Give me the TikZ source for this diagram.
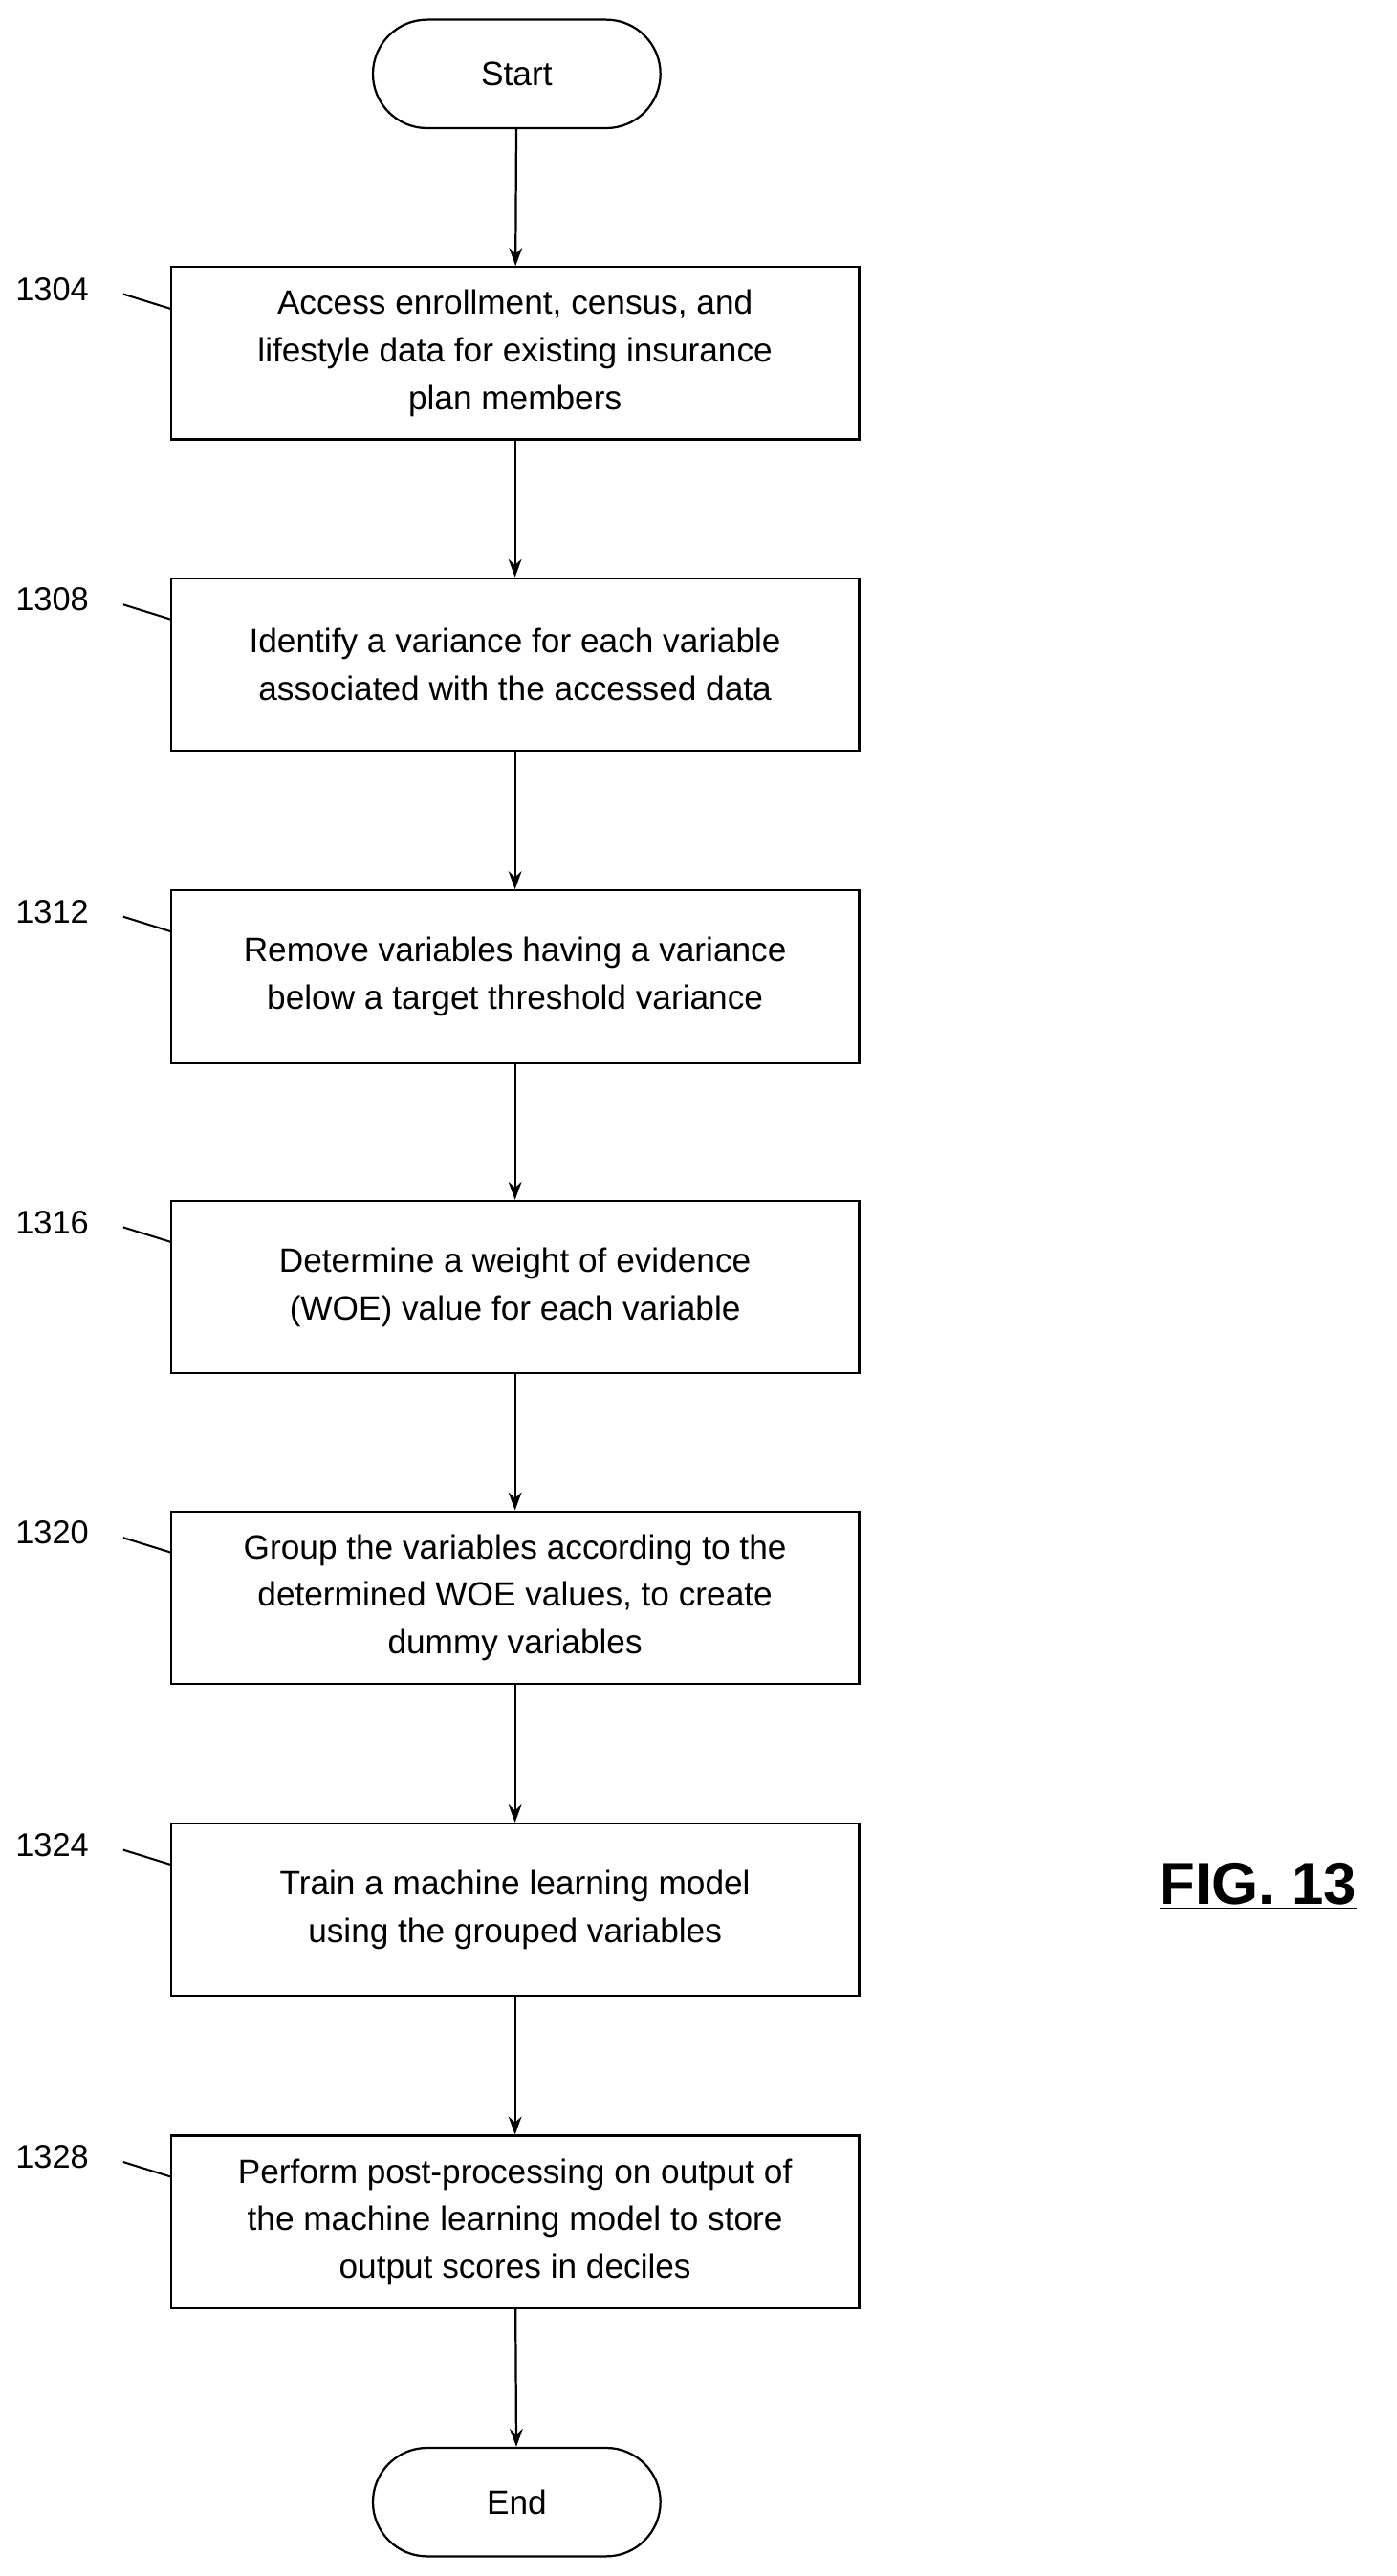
\documentclass[tikz,border=0pt]{standalone}
\usepackage{fontspec}
\setmainfont{Liberation Sans}
\usetikzlibrary{arrows.meta}
\begin{document}
\begin{tikzpicture}[x=1pt,y=-1pt,
  box/.style={draw,line width=1.3pt,minimum width=419pt,minimum height=105pt,align=center,font=\fontsize{20.5}{29}\selectfont,inner sep=0pt},
  term/.style={draw,line width=1.3pt,rounded corners=33pt,minimum width=175pt,minimum height=66pt,font=\fontsize{20.5}{29}\selectfont},
  lab/.style={font=\fontsize{20}{24}\selectfont,anchor=west},
  arr/.style={line width=1.3pt,-{Stealth[length=11pt,width=8pt]}}]
\useasboundingbox (0,0) rectangle (850,1568);
\node[term] (s) at (314.5,45) {Start};
\node[box] (b1) at (313.5,215) {Access enrollment, census, and\\lifestyle data for existing insurance\\plan members};
\node[box] (b2) at (313.5,404.5) {Identify a variance for each variable\\associated with the accessed data};
\node[box] (b3) at (313.5,594.5) {Remove variables having a variance\\below a target threshold variance};
\node[box] (b4) at (313.5,783.5) {Determine a weight of evidence\\(WOE) value for each variable};
\node[box] (b5) at (313.5,972.5) {Group the variables according to the\\determined WOE values, to create\\dummy variables};
\node[box] (b6) at (313.5,1162.5) {Train a machine learning model\\using the grouped variables};
\node[box] (b7) at (313.5,1352.5) {Perform post-processing on output of\\the machine learning model to store\\output scores in deciles};
\node[term] (e) at (314.5,1523) {End};
\foreach \a/\b in {s/b1,b1/b2,b2/b3,b3/b4,b4/b5,b5/b6,b6/b7,b7/e}
  \draw[arr] (\a) -- (\b);
\foreach \n/\y/\t in {b1/176/1304,b2/365/1308,b3/555/1312,b4/744/1316,b5/933/1320,b6/1123/1324,b7/1313/1328}{
  \node[lab] (l\t) at (6,\y) {\t};
  \coordinate (c\t) at (104,\y+12);
  \draw[line width=1.2pt] (75,\y+3) -- (c\t);
}
\node[font=\bfseries\fontsize{36}{40}\selectfont] (fig) at (766,1148) {\underline{FIG. 13}};
\end{tikzpicture}
\end{document}
